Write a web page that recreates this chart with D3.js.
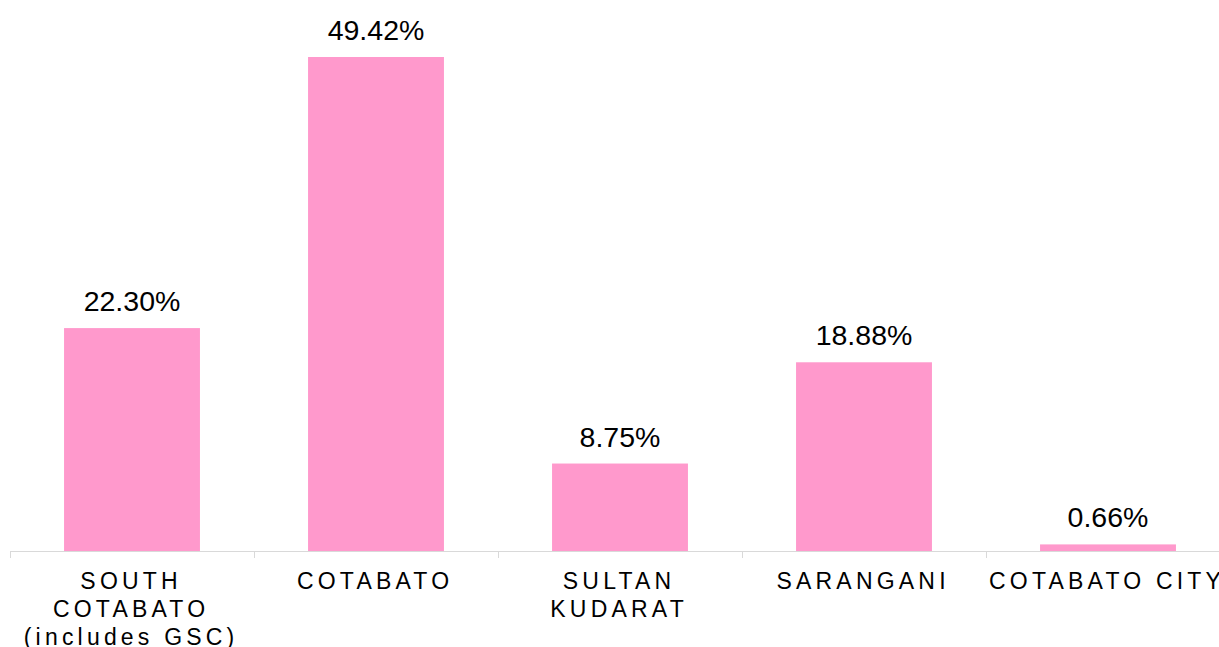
<!DOCTYPE html>
<html>
<head>
<meta charset="utf-8">
<script src="https://cdn.jsdelivr.net/npm/d3@7"></script>
<style>
  html, body { margin: 0; padding: 0; background: #fff; }
  svg { display: block; }
</style>
</head>
<body>
<svg id="chart" width="1219" height="647"></svg>
<script>
const categories = ["SOUTH COTABATO (includes GSC)", "COTABATO", "SULTAN KUDARAT", "SARANGANI", "COTABATO CITY"];
const categoryLines = [["SOUTH", "COTABATO", "(includes GSC)"], ["COTABATO"], ["SULTAN", "KUDARAT"], ["SARANGANI"], ["COTABATO CITY"]];
const values = [22.30, 49.42, 8.75, 18.88, 0.66];
const valueLabels = ["22.30%", "49.42%", "8.75%", "18.88%", "0.66%"];

const svg = d3.select("#chart");
const baseY = 551;
const x = d3.scaleBand().domain(categories).range([10, 1230]).paddingInner(0.443).paddingOuter(0.2215);
const band = d3.scaleBand().domain(categories).range([10, 1230]).padding(0);
const y = d3.scaleLinear().domain([0, 49.42]).range([baseY, 57]);

svg.selectAll("rect.bar").data(values).join("rect")
  .attr("class", "bar")
  .attr("x", (d, i) => x(categories[i]))
  .attr("width", x.bandwidth())
  .attr("y", d => y(d))
  .attr("height", d => baseY - y(d))
  .attr("fill", "#FF99CC");

// axis
svg.append("line").attr("x1", 10).attr("x2", 1219).attr("y1", baseY + 0.5).attr("y2", baseY + 0.5)
  .attr("stroke", "#D9D9D9").attr("stroke-width", 1);
const ticks = categories.map(c => band(c)).concat([band(categories[4]) + band.bandwidth()]);
svg.selectAll("line.tick").data(ticks).join("line")
  .attr("class", "tick")
  .attr("x1", d => Math.round(d) + 0.5).attr("x2", d => Math.round(d) + 0.5)
  .attr("y1", baseY).attr("y2", baseY + 7)
  .attr("stroke", "#D9D9D9").attr("stroke-width", 1);

// value labels
svg.selectAll("text.val").data(values).join("text")
  .attr("class", "val")
  .attr("x", (d, i) => band(categories[i]) + band.bandwidth() / 2)
  .attr("y", d => y(d) - 17)
  .attr("text-anchor", "middle")
  .attr("font-family", "Liberation Sans, Arial, sans-serif")
  .attr("font-size", 28.5)
  .attr("fill", "#000")
  .text((d, i) => valueLabels[i]);

// category labels
categories.forEach((c, i) => {
  const t = svg.append("text")
    .attr("text-anchor", "middle")
    .attr("font-family", "Liberation Sans, Arial, sans-serif")
    .attr("font-size", 23)
    .attr("letter-spacing", "4.2px")
    .attr("fill", "#000");
  const cx = band(c) + band.bandwidth() / 2 - 0.9;
  categoryLines[i].forEach((line, j) => {
    t.append("tspan").attr("x", cx).attr("y", 589 + j * 28).text(line);
  });
});
</script>
</body>
</html>
